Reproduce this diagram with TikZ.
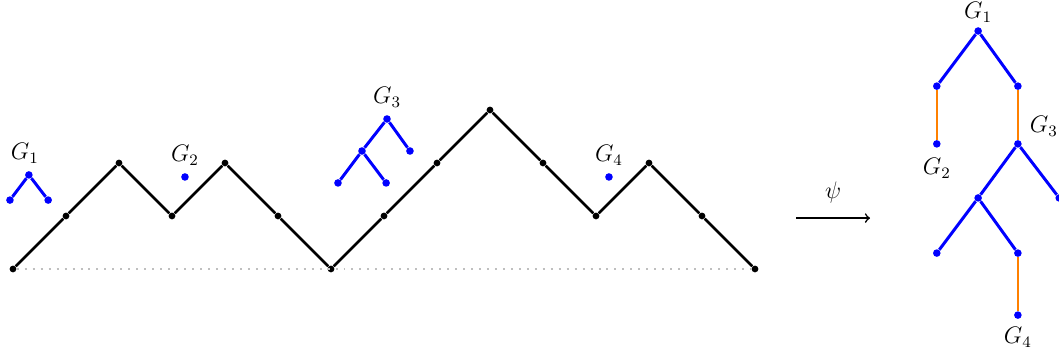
\documentclass[tikz,border=0pt]{standalone}
\usepackage{amsmath,amssymb}
\usepackage{tikz}
\usepackage{xcolor}
\usetikzlibrary{arrows,positioning}
\definecolor{treeblue}{RGB}{0,0,255}
\definecolor{glueorange}{RGB}{255,128,0}

\begin{document}
\begin{tikzpicture}[x=0.935cm, y=0.935cm,
    pdot/.style={circle, fill=black, inner sep=0pt, minimum size=3.4pt},
    tdot/.style={circle, fill=treeblue, inner sep=0pt, minimum size=3.8pt},
    pathedge/.style={line width=1.3pt, black},
    treeedge/.style={line width=1.5pt, treeblue},
    glueedge/.style={line width=1.3pt, glueorange},
    baseline/.style={line width=1pt, gray!50, dash pattern=on 1pt off 3pt},
    glabel/.style={font=\fontsize{11.5}{14}\selectfont, inner sep=3pt}]
                    \useasboundingbox (-0.245,-1.604) rectangle (19.736,5.075);
                    \clip (-0.245,-1.604) rectangle (19.736,5.075);

                    % Dyck path
                    \node[pdot] (p0) at (0,0) {};
                    \node[pdot] (p1) at (1,1) {};
                    \node[pdot] (p2) at (2,2) {};
                    \node[pdot] (p3) at (3,1) {};
                    \node[pdot] (p4) at (4,2) {};
                    \node[pdot] (p5) at (5,1) {};
                    \node[pdot] (p6) at (6,0) {};
                    \node[pdot] (p7) at (7,1) {};
                    \node[pdot] (p8) at (8,2) {};
                    \node[pdot] (p9) at (9,3) {};
                    \node[pdot] (p10) at (10,2) {};
                    \node[pdot] (p11) at (11,1) {};
                    \node[pdot] (p12) at (12,2) {};
                    \node[pdot] (p13) at (13,1) {};
                    \node[pdot] (p14) at (14,0) {};

                    \draw[baseline] (p0) -- (p14);
                    \draw[pathedge] (p0) -- (p1) -- (p2) -- (p3) -- (p4) -- (p5) -- (p6)
                        -- (p7) -- (p8) -- (p9) -- (p10) -- (p11) -- (p12) -- (p13) -- (p14);

                    % small trees above the path
                    \node[tdot] (a1) at (0.30,1.774) {};
                    \node[tdot] (a1l) at (-0.057,1.30) {};
                    \node[tdot] (a1r) at (0.664,1.30) {};
                    \draw[treeedge] (a1l) -- (a1) -- (a1r);
                    \node[glabel, above=0.5pt of a1, xshift=-2pt] {$G_1$};

                    \node[tdot] (a2) at (3.245,1.736) {};
                    \node[glabel, above=0.5pt of a2] {$G_2$};

                    \node[tdot] (a3) at (7.057,2.83) {};
                    \node[tdot] (a3m) at (6.585,2.226) {};
                    \node[tdot] (a3r) at (7.49,2.226) {};
                    \node[tdot] (a3ml) at (6.132,1.623) {};
                    \node[tdot] (a3mr) at (7.04,1.623) {};
                    \draw[treeedge] (a3m) -- (a3) -- (a3r);
                    \draw[treeedge] (a3ml) -- (a3m) -- (a3mr);
                    \node[glabel, above=0.5pt of a3] {$G_3$};

                    \node[tdot] (a4) at (11.245,1.736) {};
                    \node[glabel, above=0.5pt of a4] {$G_4$};

                    % the map
                    \coordinate (psiA) at (14.78,0.96);
                    \coordinate (psiB) at (16.17,0.96);
                    \draw[thick, ->] (psiA) -- node[glabel, above=4pt] {$\psi$} (psiB);

                    % glued tree
                    \node[tdot] (t1) at (18.21,4.49) {};
                    \node[tdot] (t1l) at (17.43,3.45) {};
                    \node[tdot] (t1r) at (18.96,3.45) {};
                    \node[tdot] (t2) at (17.43,2.36) {};
                    \node[tdot] (t3) at (18.96,2.36) {};
                    \node[tdot] (t3m) at (18.21,1.34) {};
                    \node[tdot] (t3r) at (19.74,1.34) {};
                    \node[tdot] (t3ml) at (17.43,0.30) {};
                    \node[tdot] (t3mr) at (18.96,0.30) {};
                    \node[tdot] (t4) at (18.96,-0.87) {};

                    \draw[treeedge] (t1l) -- (t1) -- (t1r);
                    \draw[treeedge] (t3m) -- (t3) -- (t3r);
                    \draw[treeedge] (t3ml) -- (t3m) -- (t3mr);
                    \draw[glueedge] (t1l) -- (t2);
                    \draw[glueedge] (t1r) -- (t3);
                    \draw[glueedge] (t3mr) -- (t4);

                    \node[glabel, above=-1pt of t1] {$G_1$};
                    \node[glabel, below=2pt of t2] {$G_2$};
                    \node[glabel, above right=-1pt and 0.05 of t3] {$G_3$};
                    \node[glabel, below=1pt of t4] {$G_4$};
                \end{tikzpicture}
\end{document}
